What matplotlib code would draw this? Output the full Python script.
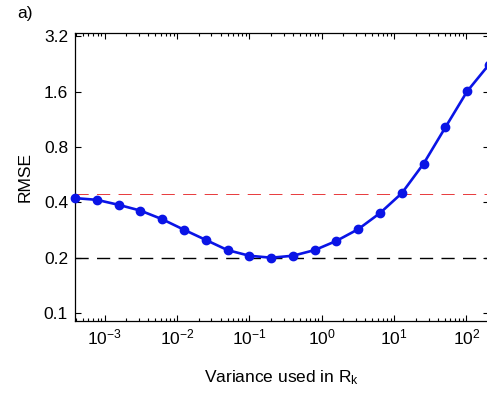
import matplotlib
matplotlib.use("Agg")
import matplotlib.pyplot as plt
import numpy as np
from matplotlib.ticker import FixedLocator, FixedFormatter, LogLocator, NullLocator

plt.rcParams['font.family'] = ['Liberation Sans', 'DejaVu Sans']
plt.rcParams['mathtext.fontset'] = 'custom'
plt.rcParams['mathtext.rm'] = 'Liberation Sans'
plt.rcParams['mathtext.it'] = 'Liberation Sans:italic'
plt.rcParams['mathtext.default'] = 'regular'
plt.rcParams['lines.scale_dashes'] = False

# variance used in R_k (doubling steps) and resulting RMSE
variance = [0.1 * 2.0 ** n for n in range(-8, 12)]
rmse = [0.422, 0.413, 0.388, 0.361, 0.324, 0.284, 0.250, 0.220, 0.205, 0.200,
        0.205, 0.220, 0.247, 0.286, 0.350, 0.449, 0.650, 1.025, 1.61, 2.25]
red_level = 0.445
black_level = 0.2

y_ticks = [0.1, 0.2, 0.4, 0.8, 1.6, 3.2]
y_labels = ['0.1', '0.2', '0.4', '0.8', '1.6', '3.2']
x_ticks = [1e-3, 1e-2, 1e-1, 1e0, 1e1, 1e2]
x_labels = [r'$10^{-3}$', r'$10^{-2}$', r'$10^{-1}$', r'$10^{0}$', r'$10^{1}$', r'$10^{2}$']

fig = plt.figure(figsize=(4.87, 3.93), dpi=100)
ax = fig.add_axes([75 / 487, 1 - 321 / 393, 414 / 487, 288 / 393])

ax.axhline(red_level, color='#e8393b', linewidth=0.7, dashes=(9.5, 6), zorder=1)
ax.axhline(black_level, color='black', linewidth=1.0, dashes=(9.5, 6), zorder=1)
ax.plot(variance, rmse, '-o', color='#0a14e6', linewidth=1.9, markersize=6,
        clip_on=False, zorder=3)

ax.set_xscale('log')
ax.set_yscale('log', base=2)
ax.set_xlim(variance[0], variance[-1])
ax.set_ylim(0.0905, 3.34)

ax.xaxis.set_major_locator(FixedLocator(x_ticks))
ax.xaxis.set_major_formatter(FixedFormatter(x_labels))
ax.xaxis.set_minor_locator(LogLocator(base=10, subs=np.arange(2, 10)))
ax.yaxis.set_major_locator(FixedLocator(y_ticks))
ax.yaxis.set_major_formatter(FixedFormatter(y_labels))
ax.yaxis.set_minor_locator(NullLocator())

ax.tick_params(which='both', direction='in', top=True, right=True,
               labelsize=12.5, width=0.8, pad=5)
ax.tick_params(which='major', length=4)
ax.tick_params(which='minor', length=2)
for s in ax.spines.values():
    s.set_linewidth(0.9)

ax.set_xlabel(r'Variance used in R$_k$', fontsize=12.5, labelpad=15)
ax.set_ylabel('RMSE', fontsize=12.5, labelpad=8)
fig.text(0.035, 0.985, 'a)', fontsize=12.5, va='top')

fig.savefig('out.png', dpi=100)
